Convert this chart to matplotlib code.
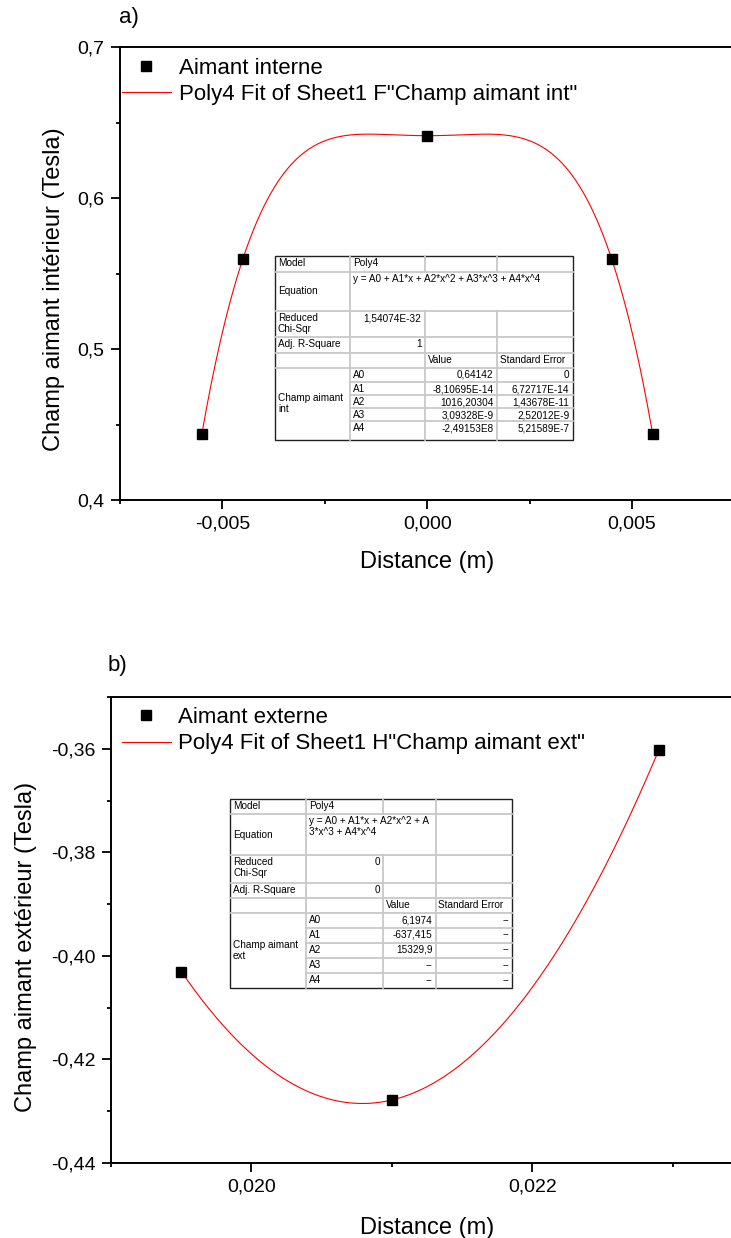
import numpy as np
import matplotlib
matplotlib.use('Agg')
import matplotlib.pyplot as plt
from matplotlib.patches import Rectangle

plt.rcParams['font.family'] = ['Liberation Sans', 'DejaVu Sans']

W, H = 731, 1238

# a) inner magnet
dist_int = [-0.0055, -0.0045, 0.0, 0.0045, 0.0055]
field_int = [0.444, 0.560, 0.64142, 0.560, 0.444]
fit_int = [0.64142, -8.10695e-14, 1016.20304, 3.09328e-9, -2.49153e8]  # A0..A4

# b) outer magnet
dist_ext = [0.0195, 0.021, 0.0229]
field_ext = [-0.40309, -0.42784, -0.3603]
fit_ext = [6.1974, -637.415, 15329.9, 0.0, 0.0]

xt_int = [-0.005, 0.0, 0.005]
xt_int_labels = ['-0,005', '0,000', '0,005']
yt_int = [0.4, 0.5, 0.6, 0.7]
yt_int_labels = ['0,4', '0,5', '0,6', '0,7']

xt_ext = [0.020, 0.022]
xt_ext_labels = ['0,020', '0,022']
yt_ext = [-0.44, -0.42, -0.40, -0.38, -0.36]
yt_ext_labels = ['-0,44', '-0,42', '-0,40', '-0,38', '-0,36']

# fit report tables (text as shown)
tab_int = [
    ['Model', 'Poly4', '', ''],
    ['Equation', 'y = A0 + A1*x + A2*x^2 + A3*x^3 + A4*x^4', '', ''],
    ['Reduced\nChi-Sqr', '1,54074E-32', '', ''],
    ['Adj. R-Square', '1', '', ''],
    ['', '', 'Value', 'Standard Error'],
    ['Champ aimant\nint', 'A0', '0,64142', '0'],
    ['', 'A1', '-8,10695E-14', '6,72717E-14'],
    ['', 'A2', '1016,20304', '1,43678E-11'],
    ['', 'A3', '3,09328E-9', '2,52012E-9'],
    ['', 'A4', '-2,49153E8', '5,21589E-7'],
]
tab_ext = [
    ['Model', 'Poly4', '', ''],
    ['Equation', 'y = A0 + A1*x + A2*x^2 + A\n3*x^3 + A4*x^4', '', ''],
    ['Reduced\nChi-Sqr', '0', '', ''],
    ['Adj. R-Square', '0', '', ''],
    ['', '', 'Value', 'Standard Error'],
    ['Champ aimant\next', 'A0', '6,1974', '--'],
    ['', 'A1', '-637,415', '--'],
    ['', 'A2', '15329,9', '--'],
    ['', 'A3', '--', '--'],
    ['', 'A4', '--', '--'],
]


def px_axes(fig, x0, y0, x1, y1):
    return fig.add_axes([x0 / W, 1 - y1 / H, (x1 - x0) / W, (y1 - y0) / H])


def style_axes(ax):
    for side in ['left', 'bottom', 'top']:
        ax.spines[side].set_linewidth(1.4)
    ax.spines['right'].set_visible(False)
    ax.tick_params(which='major', direction='out', length=6.5, width=1.3,
                   labelsize=14, pad=4.5)
    ax.tick_params(which='minor', direction='out', length=3.2, width=1.3)
    ax.tick_params(top=False, right=False)


def draw_table(fig, cols, rows, cells, eq_skip):
    tab = px_axes(fig, cols[0], rows[0], cols[-1], rows[-1])
    tab.set_xlim(cols[0], cols[-1])
    tab.set_ylim(rows[-1], rows[0])
    tab.axis('off')
    tab.add_patch(Rectangle((cols[0], rows[0]), cols[-1] - cols[0],
                            rows[-1] - rows[0], facecolor='white',
                            edgecolor='none'))
    grey = '#c8c8c8'
    for i in range(1, len(rows) - 1):
        start = cols[1] if i >= 6 else cols[0]
        tab.plot([start, cols[-1]], [rows[i], rows[i]], color=grey, lw=1.3,
                 clip_on=False)
    for j in range(1, len(cols) - 1):
        for i in range(len(rows) - 1):
            if i == 1 and j in eq_skip:
                continue
            tab.plot([cols[j], cols[j]], [rows[i], rows[i + 1]], color=grey,
                     lw=1.3, clip_on=False)
    tab.add_patch(Rectangle((cols[0], rows[0]), cols[-1] - cols[0],
                            rows[-1] - rows[0], facecolor='none',
                            edgecolor='#222222', lw=1.0, clip_on=False))
    fs = 7.2
    for i, row in enumerate(cells):
        for j, txt in enumerate(row):
            if not txt:
                continue
            top = rows[i] + 2
            if j == 0 and i == 1:
                tab.text(cols[0] + 3, (rows[1] + rows[2]) / 2, txt,
                         fontsize=fs, va='center', ha='left')
            elif j == 0 and i == 5:
                tab.text(cols[0] + 3, (rows[5] + rows[-1]) / 2, txt,
                         fontsize=fs, va='center', ha='left',
                         linespacing=1.1)
            elif j == 0 or (j == 1 and i in (0, 1, 5, 6, 7, 8, 9)) or i == 4:
                tab.text(cols[j] + 3, top, txt, fontsize=fs, va='top',
                         ha='left', linespacing=1.1)
            else:
                tab.text(cols[j + 1] - 3, top, txt, fontsize=fs, va='top',
                         ha='right', linespacing=1.1)


def plot_panel(fig, box, xlim, ylim, dist, field, coeffs, names,
               xt, xtl, xminor, yt, ytl, yminor, ylabel, label_x, leg_anchor):
    ax = px_axes(fig, *box)
    xs = np.linspace(min(dist), max(dist), 400)
    ax.plot(xs, np.polyval(coeffs[::-1], xs), color='#ff0000', lw=0.8,
            label=names[1], zorder=2)
    ax.plot(dist, field, 's', color='black', ms=7.2, label=names[0], zorder=3)
    ax.set_xlim(*xlim)
    ax.set_ylim(*ylim)
    ax.set_xticks(xt)
    ax.set_xticklabels(xtl)
    ax.set_xticks(xminor, minor=True)
    ax.set_yticks(yt)
    ax.set_yticklabels(ytl)
    ax.set_yticks(yminor, minor=True)
    style_axes(ax)
    ax.set_xlabel('Distance (m)', fontsize=17)
    ax.set_ylabel(ylabel, fontsize=17)
    ax.yaxis.set_label_coords(label_x[0], label_x[1])
    ax.xaxis.set_label_coords(0.5, label_x[2])
    handles, labels = ax.get_legend_handles_labels()
    ax.legend(handles[::-1], labels[::-1], loc='upper left',
              bbox_to_anchor=leg_anchor, frameon=False, fontsize=16,
              handlelength=2.2, handletextpad=0.35, labelspacing=0.25,
              borderpad=0, borderaxespad=0)
    return ax


fig = plt.figure(figsize=(W / 100, H / 100), dpi=100)

plot_panel(fig, (120, 47.3, 734.5, 500), (-0.0075, 0.0075), (0.4, 0.7),
           dist_int, field_int, fit_int,
           ['Aimant interne', 'Poly4 Fit of Sheet1 F"Champ aimant int"'],
           xt_int, xt_int_labels, [-0.0075, -0.0025, 0.0025, 0.0075],
           yt_int, yt_int_labels, [0.45, 0.55, 0.65],
           'Champ aimant intérieur (Tesla)', (-0.09, 0.466, -0.112),
           (0.003, 0.977))

plot_panel(fig, (111, 697, 743, 1163), (0.019, 0.0235), (-0.44, -0.35),
           dist_ext, field_ext, fit_ext,
           ['Aimant externe', 'Poly4 Fit of Sheet1 H"Champ aimant ext"'],
           xt_ext, xt_ext_labels, [0.019, 0.021, 0.023],
           yt_ext, yt_ext_labels, [-0.43, -0.41, -0.39, -0.37, -0.35],
           'Champ aimant extérieur (Tesla)', (-0.117, 0.4635, -0.115),
           (0.017, 0.979))

draw_table(fig, [275, 350, 424.5, 496.5, 572.5],
           [255.7, 271.7, 311, 337.3, 352.5, 367.5, 382, 395, 408, 421, 440],
           tab_int, eq_skip=(2, 3))
draw_table(fig, [230, 306.3, 383.2, 435.5, 512],
           [798.5, 814, 855, 882.5, 898, 913, 927.5, 942.5, 957.8, 973, 988],
           tab_ext, eq_skip=(2,))

fig.text(119 / W, 1 - 17 / H, 'a)', fontsize=16, va='center', ha='left')
fig.text(108 / W, 1 - 666 / H, 'b)', fontsize=16, va='center', ha='left')

fig.savefig('out.png', dpi=100)
